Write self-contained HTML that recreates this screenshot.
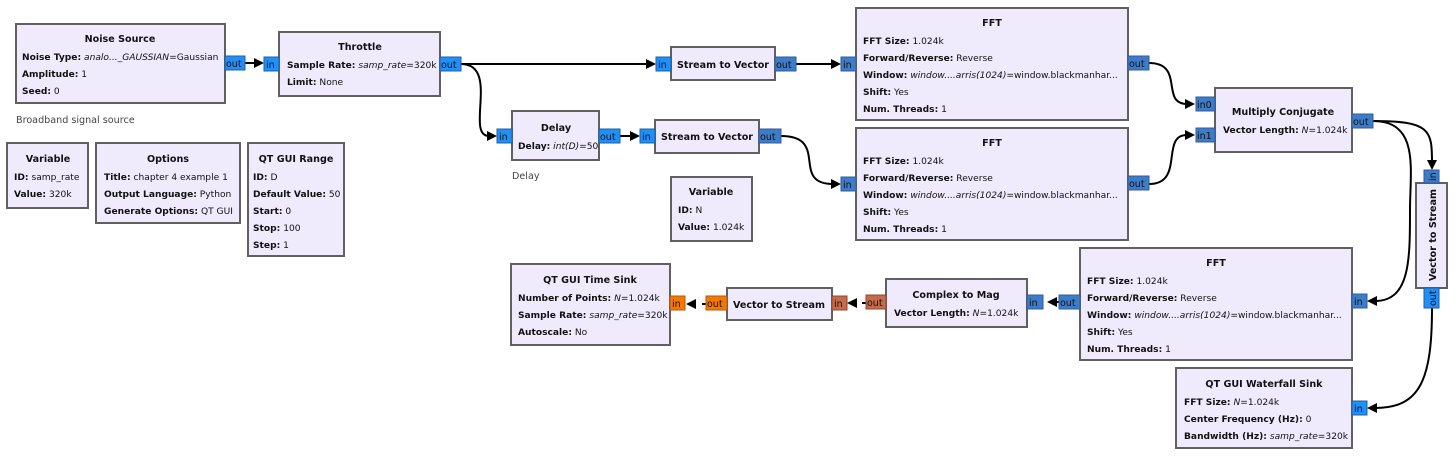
<!DOCTYPE html>
<html><head><meta charset="utf-8"><style>
html,body{margin:0;padding:0;background:#fff;}
svg{display:block;font-family:"DejaVu Sans","Liberation Sans",sans-serif;}
.b{fill:#efebfd;stroke:#606060;stroke-width:2;}
.t{font-size:9.6px;font-weight:bold;text-anchor:middle;fill:#111;}
.p{font-size:9.1px;fill:#111;}
.p tspan.k{font-weight:bold;}
.c{fill:#2090f8;stroke:#2060a0;stroke-width:1;}
.v{fill:#3d7cc8;stroke:#335c99;stroke-width:1;}
.o{fill:#f57900;stroke:#b05a10;stroke-width:1;}
.r{fill:#c56a4b;stroke:#904830;stroke-width:1;}
.pl{font-size:9.5px;fill:#111;}
.w{fill:none;stroke:#000;stroke-width:2;}
.a{fill:#000;}
</style></head><body>
<svg width="1456" height="456" viewBox="0 0 1456 456" xmlns="http://www.w3.org/2000/svg">
<!-- wires -->
<path class="w" d="M245 63 L256 63"/><path class="a" d="M264 63 l-10 -5 v10z"/>
<path class="w" d="M461 64 L648 64"/><path class="a" d="M656 64 l-10 -5 v10z"/>
<path class="w" d="M461 64 C500 64 465 136 489 136"/><path class="a" d="M497 136 l-10 -5 v10z"/>
<path class="w" d="M620 136 L632 136"/><path class="a" d="M640 136 l-10 -5 v10z"/>
<path class="w" d="M796 64 L833 64"/><path class="a" d="M841 64 l-10 -5 v10z"/>
<path class="w" d="M781 136 C830 136 790 184 833 184"/><path class="a" d="M841 184 l-10 -5 v10z"/>
<path class="w" d="M1149 63 C1185 63 1160 104 1187 104"/><path class="a" d="M1195 104 l-10 -5 v10z"/>
<path class="w" d="M1149 184 C1185 184 1160 135 1187 135"/><path class="a" d="M1195 135 l-10 -5 v10z"/>
<path class="w" d="M1373 121 C1430 121 1432 130 1432 162"/><path class="a" d="M1432 170 l-5 -10 h10z"/>
<path class="w" d="M1373 121 C1420 121 1410 170 1410 210 C1410 260 1410 301 1375 301"/><path class="a" d="M1367 301 l10 -5 v10z"/>
<path class="w" d="M1432 308 C1432 380 1420 408 1375 408"/><path class="a" d="M1367 408 l10 -5 v10z"/>
<path class="w" d="M1059 302 L1055 302"/><path class="a" d="M1047 302 l10 -5 v10z"/>
<path class="w" d="M866 303 L862 303"/><path class="a" d="M847 303 l10 -5 v10z"/>
<path class="w" d="M706 304 L702 304"/><path class="a" d="M686 304 l10 -5 v10z"/>

<!-- Noise Source -->
<rect class="b" x="16" y="24" width="209" height="79"/>
<text class="t" x="120" y="42">Noise Source</text>
<text class="p" x="22" y="60"><tspan class="k">Noise Type:</tspan> <tspan font-style="italic">analo..._GAUSSIAN</tspan>=Gaussian</text>
<text class="p" x="22" y="77"><tspan class="k">Amplitude:</tspan> 1</text>
<text class="p" x="22" y="94"><tspan class="k">Seed:</tspan> 0</text>
<rect class="c" x="225" y="56" width="20" height="14"/><text class="pl" x="226" y="67">out</text>
<text x="16" y="123" font-size="9.6" fill="#444">Broadband signal source</text>

<!-- Throttle -->
<rect class="b" x="279" y="32" width="161" height="64"/>
<text class="t" x="360" y="50">Throttle</text>
<text class="p" x="287" y="68"><tspan class="k">Sample Rate:</tspan> <tspan font-style="italic">samp_rate</tspan>=320k</text>
<text class="p" x="287" y="85"><tspan class="k">Limit:</tspan> None</text>
<rect class="c" x="264" y="57" width="15" height="14"/><text class="pl" x="266" y="68">in</text>
<rect class="c" x="440" y="57" width="21" height="14"/><text class="pl" x="441" y="68">out</text>

<!-- Variable -->
<rect class="b" x="7" y="143" width="81" height="65"/>
<text class="t" x="48" y="162">Variable</text>
<text class="p" x="14" y="180"><tspan class="k">ID:</tspan> samp_rate</text>
<text class="p" x="14" y="197"><tspan class="k">Value:</tspan> 320k</text>

<!-- Options -->
<rect class="b" x="96" y="143" width="144" height="80"/>
<text class="t" x="168" y="162">Options</text>
<text class="p" x="104" y="180"><tspan class="k">Title:</tspan> chapter 4 example 1</text>
<text class="p" x="104" y="197"><tspan class="k">Output Language:</tspan> Python</text>
<text class="p" x="104" y="214"><tspan class="k">Generate Options:</tspan> QT GUI</text>

<!-- QT GUI Range -->
<rect class="b" x="248" y="143" width="96" height="113"/>
<text class="t" x="296" y="162">QT GUI Range</text>
<text class="p" x="253" y="180"><tspan class="k">ID:</tspan> D</text>
<text class="p" x="253" y="197"><tspan class="k">Default Value:</tspan> 50</text>
<text class="p" x="253" y="214"><tspan class="k">Start:</tspan> 0</text>
<text class="p" x="253" y="231"><tspan class="k">Stop:</tspan> 100</text>
<text class="p" x="253" y="248"><tspan class="k">Step:</tspan> 1</text>

<!-- Delay -->
<rect class="b" x="512" y="111" width="87" height="49"/>
<text class="t" x="556" y="131">Delay</text>
<text class="p" x="518" y="149"><tspan class="k">Delay:</tspan> <tspan font-style="italic">int(D)</tspan>=50</text>
<rect class="c" x="497" y="129" width="15" height="14"/><text class="pl" x="499" y="140">in</text>
<rect class="c" x="599" y="129" width="21" height="14"/><text class="pl" x="600" y="140">out</text>
<text x="512" y="179" font-size="9.6" fill="#444">Delay</text>

<!-- Stream to Vector 1 -->
<rect class="b" x="671" y="47" width="104" height="33"/>
<text class="t" x="723" y="68">Stream to Vector</text>
<rect class="c" x="656" y="57" width="15" height="14"/><text class="pl" x="658" y="68">in</text>
<rect class="v" x="775" y="57" width="21" height="14"/><text class="pl" x="776" y="68">out</text>

<!-- Stream to Vector 2 -->
<rect class="b" x="655" y="120" width="104" height="33"/>
<text class="t" x="707" y="140">Stream to Vector</text>
<rect class="c" x="640" y="129" width="15" height="14"/><text class="pl" x="642" y="140">in</text>
<rect class="v" x="759" y="129" width="22" height="14"/><text class="pl" x="760" y="140">out</text>

<!-- FFT 1 -->
<rect class="b" x="856" y="8" width="272" height="112"/>
<text class="t" x="992" y="26">FFT</text>
<text class="p" x="863" y="44"><tspan class="k">FFT Size:</tspan> 1.024k</text>
<text class="p" x="863" y="61"><tspan class="k">Forward/Reverse:</tspan> Reverse</text>
<text class="p" x="863" y="78"><tspan class="k">Window:</tspan> <tspan font-style="italic">window....arris(1024)</tspan>=window.blackmanhar...</text>
<text class="p" x="863" y="95"><tspan class="k">Shift:</tspan> Yes</text>
<text class="p" x="863" y="112"><tspan class="k">Num. Threads:</tspan> 1</text>
<rect class="v" x="841" y="57" width="15" height="14"/><text class="pl" x="843" y="68">in</text>
<rect class="v" x="1128" y="56" width="21" height="14"/><text class="pl" x="1129" y="67">out</text>

<!-- FFT 2 -->
<rect class="b" x="856" y="128" width="272" height="112"/>
<text class="t" x="992" y="146">FFT</text>
<text class="p" x="863" y="164"><tspan class="k">FFT Size:</tspan> 1.024k</text>
<text class="p" x="863" y="181"><tspan class="k">Forward/Reverse:</tspan> Reverse</text>
<text class="p" x="863" y="198"><tspan class="k">Window:</tspan> <tspan font-style="italic">window....arris(1024)</tspan>=window.blackmanhar...</text>
<text class="p" x="863" y="215"><tspan class="k">Shift:</tspan> Yes</text>
<text class="p" x="863" y="232"><tspan class="k">Num. Threads:</tspan> 1</text>
<rect class="v" x="841" y="177" width="15" height="14"/><text class="pl" x="843" y="188">in</text>
<rect class="v" x="1128" y="176" width="21" height="14"/><text class="pl" x="1129" y="187">out</text>

<!-- Variable N -->
<rect class="b" x="671" y="177" width="81" height="64"/>
<text class="t" x="711" y="195">Variable</text>
<text class="p" x="678" y="213"><tspan class="k">ID:</tspan> N</text>
<text class="p" x="678" y="230"><tspan class="k">Value:</tspan> 1.024k</text>

<!-- Multiply Conjugate -->
<rect class="b" x="1215" y="88" width="137" height="64"/>
<text class="t" x="1283" y="115">Multiply Conjugate</text>
<text class="p" x="1223" y="133"><tspan class="k">Vector Length:</tspan> <tspan font-style="italic">N</tspan>=1.024k</text>
<rect class="v" x="1196" y="97" width="19" height="14"/><text class="pl" x="1197" y="108">in0</text>
<rect class="v" x="1196" y="128" width="19" height="14"/><text class="pl" x="1197" y="139">in1</text>
<rect class="v" x="1352" y="114" width="21" height="14"/><text class="pl" x="1353" y="125">out</text>

<!-- Vector to Stream vertical -->
<rect class="b" x="1416" y="183" width="31" height="105"/>
<text class="t" transform="translate(1436,235) rotate(-90)">Vector to Stream</text>
<rect class="v" x="1424" y="170" width="15" height="13"/><text class="pl" transform="translate(1436,181) rotate(-90)">in</text>
<rect class="c" x="1424" y="288" width="15" height="20"/><text class="pl" transform="translate(1436,306) rotate(-90)">out</text>

<!-- FFT 3 -->
<rect class="b" x="1080" y="248" width="272" height="112"/>
<text class="t" x="1216" y="266">FFT</text>
<text class="p" x="1087" y="284"><tspan class="k">FFT Size:</tspan> 1.024k</text>
<text class="p" x="1087" y="301"><tspan class="k">Forward/Reverse:</tspan> Reverse</text>
<text class="p" x="1087" y="318"><tspan class="k">Window:</tspan> <tspan font-style="italic">window....arris(1024)</tspan>=window.blackmanhar...</text>
<text class="p" x="1087" y="335"><tspan class="k">Shift:</tspan> Yes</text>
<text class="p" x="1087" y="352"><tspan class="k">Num. Threads:</tspan> 1</text>
<rect class="v" x="1352" y="294" width="15" height="14"/><text class="pl" x="1354" y="305">in</text>
<rect class="v" x="1059" y="295" width="21" height="14"/><text class="pl" x="1060" y="306">out</text>

<!-- Complex to Mag -->
<rect class="b" x="886" y="279" width="141" height="48"/>
<text class="t" x="956" y="298">Complex to Mag</text>
<text class="p" x="894" y="316"><tspan class="k">Vector Length:</tspan> <tspan font-style="italic">N</tspan>=1.024k</text>
<rect class="v" x="1027" y="295" width="16" height="14"/><text class="pl" x="1029" y="306">in</text>
<rect class="r" x="866" y="295" width="20" height="14"/><text class="pl" x="867" y="306">out</text>

<!-- Vector to Stream -->
<rect class="b" x="727" y="288" width="105" height="32"/>
<text class="t" x="779" y="308">Vector to Stream</text>
<rect class="r" x="832" y="296" width="15" height="14"/><text class="pl" x="834" y="307">in</text>
<rect class="o" x="706" y="296" width="21" height="14"/><text class="pl" x="707" y="307">out</text>

<!-- QT GUI Time Sink -->
<rect class="b" x="511" y="264" width="159" height="81"/>
<text class="t" x="590" y="283">QT GUI Time Sink</text>
<text class="p" x="518" y="301"><tspan class="k">Number of Points:</tspan> <tspan font-style="italic">N</tspan>=1.024k</text>
<text class="p" x="518" y="318"><tspan class="k">Sample Rate:</tspan> <tspan font-style="italic">samp_rate</tspan>=320k</text>
<text class="p" x="518" y="335"><tspan class="k">Autoscale:</tspan> No</text>
<rect class="o" x="670" y="296" width="15" height="14"/><text class="pl" x="672" y="307">in</text>

<!-- Waterfall -->
<rect class="b" x="1176" y="368" width="176" height="80"/>
<text class="t" x="1264" y="387">QT GUI Waterfall Sink</text>
<text class="p" x="1184" y="405"><tspan class="k">FFT Size:</tspan> <tspan font-style="italic">N</tspan>=1.024k</text>
<text class="p" x="1184" y="422"><tspan class="k">Center Frequency (Hz):</tspan> 0</text>
<text class="p" x="1184" y="439"><tspan class="k">Bandwidth (Hz):</tspan> <tspan font-style="italic">samp_rate</tspan>=320k</text>
<rect class="c" x="1352" y="401" width="15" height="14"/><text class="pl" x="1354" y="412">in</text>
</svg>
</body></html>
